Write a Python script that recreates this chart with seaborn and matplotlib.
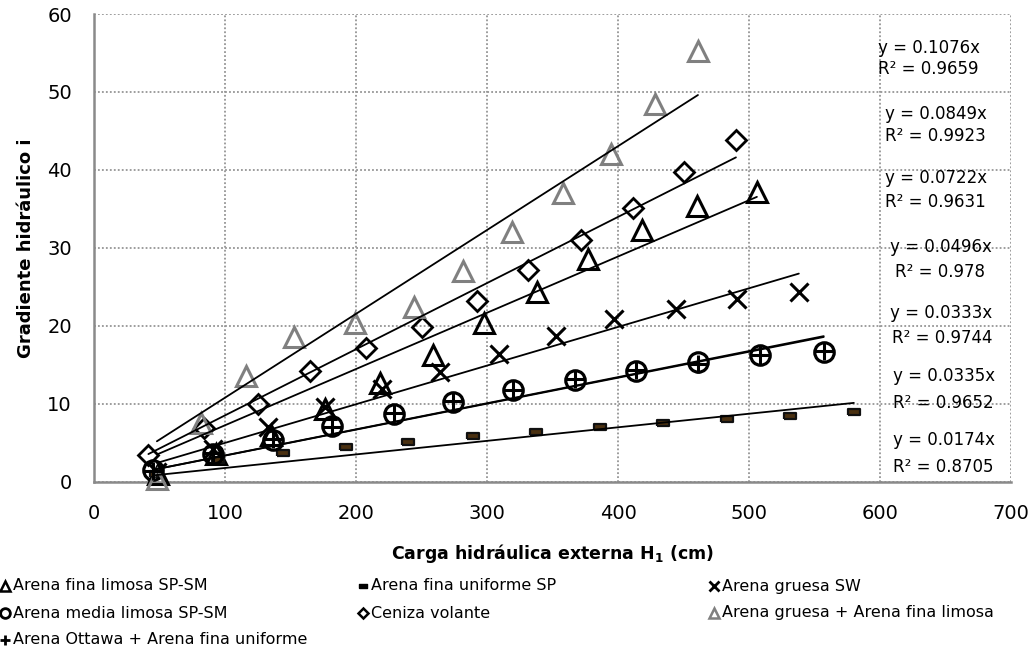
import numpy as np
import pandas as pd
import matplotlib
matplotlib.use("Agg")
import matplotlib.pyplot as plt
from matplotlib.lines import Line2D
import seaborn as sns

# ---- data: external hydraulic head H1 (cm) vs hydraulic gradient i ----
fina_limosa_x = [49, 93, 135, 176, 218, 259, 298, 338, 377, 418, 460, 506]
fina_limosa_y = [1.0, 3.5, 6.0, 9.3, 12.6, 16.2, 20.3, 24.3, 28.6, 32.3, 35.4, 37.2]

fina_uniforme_x = [47, 95, 144, 192, 240, 289, 337, 386, 434, 483, 531, 580]
fina_uniforme_y = [1.0, 2.8, 3.7, 4.4, 5.1, 5.8, 6.4, 6.95, 7.45, 8.0, 8.4, 8.95]

gruesa_x = [48, 91, 133, 176, 220, 264, 309, 353, 397, 444, 491, 538]
gruesa_y = [1.2, 4.2, 7.0, 9.6, 11.9, 14.1, 16.4, 18.7, 20.8, 22.1, 23.4, 24.3]

media_limosa_x = [45, 91, 137, 182, 229, 274, 320, 367, 414, 461, 508, 557]
media_limosa_y = [1.5, 3.5, 5.3, 7.1, 8.7, 10.2, 11.7, 13.0, 14.2, 15.4, 16.2, 16.6]

ceniza_x = [41.5, 84, 125, 164.5, 207.5, 250, 292, 331.5, 372, 411.5, 450, 490]
ceniza_y = [3.4, 6.9, 9.9, 14.2, 17.1, 19.8, 23.2, 27.2, 31.0, 35.1, 39.7, 43.8]

gruesa_fina_x = [48, 82, 116, 153, 199, 244, 282, 319, 358, 395, 428, 461]
gruesa_fina_y = [0.3, 7.5, 13.5, 18.5, 20.3, 22.4, 27.0, 32.0, 37.0, 42.0, 48.5, 55.2]

ottawa_x = [45, 91, 137, 182, 229, 274, 320, 367, 414, 461, 508, 557]
ottawa_y = [1.4, 3.6, 5.4, 7.0, 8.8, 10.3, 11.8, 13.1, 14.3, 15.1, 16.3, 16.8]

series_names = [
    "Arena fina limosa SP-SM",
    "Arena fina uniforme SP",
    "Arena gruesa SW",
    "Arena media limosa SP-SM",
    "Ceniza volante",
    "Arena gruesa + Arena fina limosa",
    "Arena Ottawa + Arena fina uniforme",
]
# linear trendlines forced through the origin
slopes = [0.0722, 0.0174, 0.0496, 0.0333, 0.0849, 0.1076, 0.0335]
r_squared = ["0.9631", "0.8705", "0.978", "0.9744", "0.9923", "0.9659", "0.9652"]

xs = [fina_limosa_x, fina_uniforme_x, gruesa_x, media_limosa_x, ceniza_x, gruesa_fina_x, ottawa_x]
ys = [fina_limosa_y, fina_uniforme_y, gruesa_y, media_limosa_y, ceniza_y, gruesa_fina_y, ottawa_y]

# ---- styling ----
dash_marker = [(-1, -0.5), (1, -0.5), (1, 0.5), (-1, 0.5), (-1, -0.5)]
styles = [
    dict(marker="^", markersize=14, markerfacecolor="none", markeredgecolor="black", markeredgewidth=2.2),
    dict(marker=dash_marker, markersize=8, markerfacecolor="#4a3010", markeredgecolor="#111111", markeredgewidth=1.6),
    dict(marker="x", markersize=13, markeredgecolor="black", markeredgewidth=2.2),
    dict(marker="o", markersize=14, markerfacecolor="none", markeredgecolor="black", markeredgewidth=2.3),
    dict(marker="D", markersize=10, markerfacecolor="none", markeredgecolor="black", markeredgewidth=2.0),
    dict(marker="^", markersize=14, markerfacecolor="none", markeredgecolor="#808080", markeredgewidth=2.2),
    dict(marker="+", markersize=13, markeredgecolor="black", markeredgewidth=2.2),
]
legend_styles = [
    dict(marker="^", markersize=7, markerfacecolor="none", markeredgecolor="black", markeredgewidth=1.8),
    dict(marker=dash_marker, markersize=6, markerfacecolor="black", markeredgecolor="black", markeredgewidth=1.0),
    dict(marker="x", markersize=7, markeredgecolor="black", markeredgewidth=2.0),
    dict(marker="o", markersize=7, markerfacecolor="none", markeredgecolor="black", markeredgewidth=2.0),
    dict(marker="D", markersize=5, markerfacecolor="none", markeredgecolor="black", markeredgewidth=1.8),
    dict(marker="^", markersize=7, markerfacecolor="none", markeredgecolor="#808080", markeredgewidth=1.8),
    dict(marker="+", markersize=7, markeredgecolor="black", markeredgewidth=2.0),
]

# equation label anchors (x, y) for "y = ..." and "R² = ..."
eq_pos = [
    ((603.8, 38.9), (603.8, 35.9)),
    ((609.9, 5.3), (609.9, 1.9)),
    ((607.6, 30.1), (611.5, 26.9)),
    ((607.6, 21.6), (609.2, 18.4)),
    ((603.8, 47.2), (603.8, 44.4)),
    ((598.5, 55.7), (598.5, 53.0)),
    ((609.9, 13.5), (609.9, 10.1)),
]

sns.set_theme(style="white")
plt.rcParams["font.family"] = ["DejaVu Sans"]
plt.rcParams["text.color"] = "black"
plt.rcParams["axes.labelcolor"] = "black"

fig = plt.figure(figsize=(10.32, 6.58), dpi=100)
ax = fig.add_axes([0.0911, 0.2682, 0.8886, 0.7105])

grid_color = "#959595"
axis_color = "#8a8a8a"

for x, y, st in zip(xs, ys, styles):
    sns.lineplot(x=x, y=y, linestyle="", ax=ax, color="black", errorbar=None,
                 clip_on=False, zorder=3, **st)

for x, k in zip(xs, slopes):
    x0, x1 = min(x), max(x)
    sns.lineplot(x=[x0, x1], y=[k * x0, k * x1], color="black", linewidth=1.3,
                 ax=ax, errorbar=None, zorder=4)

for k, r2, (p_eq, p_r2) in zip(slopes, r_squared, eq_pos):
    ax.text(p_eq[0], p_eq[1], f"y = {k:.4f}x", fontsize=12, ha="left", va="center",
            color="black", zorder=5)
    ax.text(p_r2[0], p_r2[1], f"R² = {r2}", fontsize=12, ha="left", va="center",
            color="black", zorder=5)

ax.set_xlim(0, 700)
ax.set_ylim(0, 60)
ax.set_xticks(np.arange(0, 701, 100))
ax.set_yticks(np.arange(0, 61, 10))
ax.grid(True, color=grid_color, linestyle=(0, (1, 1.2)), linewidth=1.3)
ax.set_axisbelow(True)
for side in ["top", "right"]:
    ax.spines[side].set_visible(False)
for side in ["left", "bottom"]:
    ax.spines[side].set_color(axis_color)
    ax.spines[side].set_linewidth(1.8)
    ax.spines[side].set_zorder(2)
ax.tick_params(axis="both", which="major", length=4, width=1.4, color=axis_color,
               labelsize=14, labelcolor="black", direction="out")
ax.tick_params(axis="x", pad=12)
ax.tick_params(axis="y", pad=12)

ax.set_xlabel(r"Carga hidráulica externa H$_\mathbf{1}$ (cm)", fontsize=12.5,
              fontweight="bold", labelpad=14, color="black")
ax.set_ylabel("Gradiente hidráulico i", fontsize=13, fontweight="bold", labelpad=9,
              color="black")

# legend laid out in three fixed columns below the plot
col_x = [5, 363, 714]
row_y = [586, 613, 640]
order = [(0, 0, 0), (1, 0, 1), (2, 0, 2), (3, 1, 0), (4, 1, 1), (5, 1, 2), (6, 2, 0)]
W, H = 1032.0, 658.0
for idx, row, col in order:
    mx = col_x[col] / W
    my = 1 - row_y[row] / H
    fig.add_artist(Line2D([mx], [my], transform=fig.transFigure, linestyle="", color="black",
                          **legend_styles[idx]))
    fig.text(mx + 8 / W, my, series_names[idx], fontsize=11.5, ha="left", va="center",
             color="black")

fig.savefig("out.png", dpi=100)
